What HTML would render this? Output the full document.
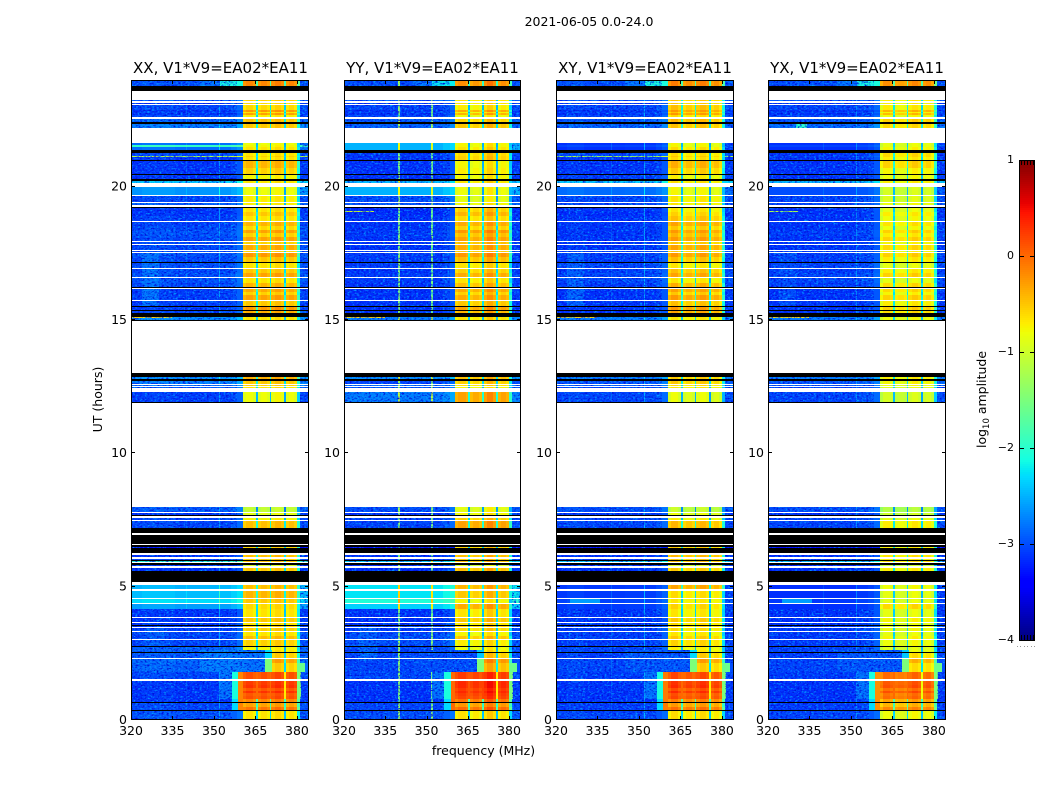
<!DOCTYPE html>
<html lang="en">
<head>
<meta charset="utf-8">
<title>2021-06-05 0.0-24.0</title>
<style>
html,body{margin:0;padding:0;background:#fff;width:1050px;height:800px;overflow:hidden}
svg{display:block}
text{font-family:"DejaVu Sans","Liberation Sans",sans-serif;fill:#000;font-size:12.5px}
</style>
</head>
<body>
<svg id="figure" xmlns="http://www.w3.org/2000/svg" width="1050" height="800" viewBox="0 0 1050 800">
  <defs>
    <filter id="noise-light" x="0" y="0" width="1" height="1" color-interpolation-filters="sRGB">
      <feTurbulence type="fractalNoise" baseFrequency="0.42 0.6" numOctaves="2" seed="3"/>
      <feColorMatrix values="0 0 0 0 0  0 0 0 0 .62  0 0 0 0 1  3.2 0 0 0 -1.6"/>
    </filter>
    <filter id="noise-dark" x="0" y="0" width="1" height="1" color-interpolation-filters="sRGB">
      <feTurbulence type="fractalNoise" baseFrequency="0.42 0.6" numOctaves="2" seed="11"/>
      <feColorMatrix values="0 0 0 0 0  0 0 0 0 .05  0 0 0 0 .85  3.2 0 0 0 -1.55"/>
    </filter>
  </defs>
  <text x="589" y="26" text-anchor="middle">2021-06-05 0.0-24.0</text>
  <g id="panel-0"></g>
  <g id="panel-1"></g>
  <g id="panel-2"></g>
  <g id="panel-3"></g>
  <text x="220.5" y="73" text-anchor="middle" style="font-size:15px">XX, V1*V9=EA02*EA11</text>
  <text x="432.5" y="73" text-anchor="middle" style="font-size:15px">YY, V1*V9=EA02*EA11</text>
  <text x="645" y="73" text-anchor="middle" style="font-size:15px">XY, V1*V9=EA02*EA11</text>
  <text x="857" y="73" text-anchor="middle" style="font-size:15px">YX, V1*V9=EA02*EA11</text>
  <text x="483.5" y="755" text-anchor="middle">frequency (MHz)</text>
  <text transform="translate(102,399.5) rotate(-90)" text-anchor="middle">UT (hours)</text>
  <g id="colorbar"></g>
  <text transform="translate(986,399.5) rotate(-90)" text-anchor="middle">log<tspan dy="3" style="font-size:8.5px">10</tspan><tspan dy="-3"> amplitude</tspan></text>
</svg>
<script>
// ---- axis ticks ----
const xTickValues = [320, 335, 350, 365, 380];
const yTickValues = [0, 5, 10, 15, 20];
const colorbarTickValues = [1, 0, -1, -2, -3, -4];

// ---- time rows: start hour of each row, running from 24 h down to 0 h ----
const rowTop = [
  24.00, 23.25, 23.15, 23.05, 22.88, 22.80, 22.75, 22.68, 22.55, 22.35,
  21.63, 21.55, 21.50, 21.28, 21.15, 21.10, 20.95, 20.69, 20.43, 20.23,
  20.00, 19.65, 19.40, 19.19, 19.05, 18.90, 18.66, 18.52, 18.38, 18.25,
  18.12, 17.93, 17.81, 17.59, 17.50, 17.35, 17.13, 16.90, 16.75, 16.56,
  16.40, 16.18, 16.05, 15.92, 15.71, 15.50, 15.34, 15.13, 12.85, 12.72,
  12.56, 12.49, 12.31, 8.00, 7.75, 7.575, 7.45, 6.50, 6.20, 6.05,
  5.96, 5.825, 5.70, 5.075, 4.85, 4.525, 4.34, 4.15, 3.84, 3.65,
  3.54, 3.44, 3.30, 3.15, 3.00, 2.74, 2.63, 2.51, 2.30, 2.125,
  1.81, 1.46, 1.30, 1.20, 1.10, 1.00, 0.90, 0.80, 0.64, 0.50, 0.34
];

// ---- frequency columns (MHz edges) ----
const columnEdges = [320,324,330,336,339.8,340.2,345,351.8,352.2,356,358.5,360.5,361.5,364.2,365.2,365.8,366.9,369.2,370.2,370.8,371.9,374.3,375.3,375.9,377,379,380,381,384];
// 0 = column follows the off-band background level, 1 = column follows the in-band level
const columnInBand = [0,0,0,0,0,0,0,0,0,0,0,1,1,1,1,1,1,1,1,1,1,1,1,1,1,1,1,0];

// ---- log10 amplitude per column, relative to the row level ----
const xxColumnGain = [-.15,-.1,-.1,-.15,0,-.15,-.13,.35,-.13,-.05,.05,-.05,.05,-.05,-1.6,-.05,.05,-.05,-1.6,0,.1,0,-1.7,-.05,.05,-.05,-1.5,-.1];
const yyColumnGain = [-.15,-.15,-.15,-.15,1.55,-.15,-.15,1.45,-.15,-.05,.05,-.05,.05,-.05,-1.7,-.1,0,-.1,-1.7,.05,.2,.05,-1.7,-.05,.05,-.05,-1.6,-.1];
const xyColumnGain = [-.15,-.1,-.15,-.15,.05,-.15,-.13,.45,-.13,-.05,.05,-.05,.1,-.05,-1.6,-.1,0,-.1,-1.6,0,.1,0,-1.7,-.1,0,-.15,-1.6,-.1];
const yxColumnGain = [-.15,-.15,-.15,-.15,0,-.15,-.15,.25,-.1,-.05,.05,-.2,0,-.08,-1.5,-.15,-.1,-.15,-1.5,-.05,.05,-.05,-1.6,-.08,0,-.15,-1.4,-.1];

// ---- log10 amplitude off-band, per row ----
const xxBackground = [
  -2.85,-2.8,-3,-2.9,-3,-2.9,-3,-2.9,-2.75,-2.6,
  -2.7,-1.8,-2.7,-2.9,-1,-3,-3,-3,-3,-2.2,
  -2.5,-2.9,-2.8,-3,-3,-2.95,-2.95,-2.9,-2.85,-2.85,
  -2.9,-2.9,-2.9,-2.9,-2.85,-2.9,-2.85,-2.9,-2.85,-2.85,
  -2.9,-2.95,-2.95,-2.95,-2.95,-2.95,-2.9,-2.5,-2.5,-2.6,
  -2.7,-2.8,-2.95,-2.8,-3,-2.9,-2.9,-3.3,-3,-2.95,
  -1.9,-3,-3,-2.35,-2.3,-2.15,-2.45,-3,-3,-3,
  -2.95,-2.95,-2.9,-2.9,-2.9,-2.75,-2.75,-2.8,-2.7,-2.75,
  -2.9,-3,-3,-3,-3,-3,-3,-3,-2.9,-2.9,-2.85
];
const yyBackground = [
  -2.85,-2.8,-3,-2.9,-3,-2.9,-3,-2.9,-2.8,-2.75,
  -2.35,-2.35,-2.35,-2.95,-3,-3,-3,-3,-3,-2.3,
  -2.35,-2.85,-2.8,-3.05,-3.05,-3,-3,-3,-2.95,-2.95,
  -3,-3,-3,-2.95,-2.95,-2.95,-2.95,-3,-2.95,-2.95,
  -3,-3,-3,-3,-3,-3,-3,-2.6,-2.5,-2.9,
  -2.7,-2.8,-2.6,-2.85,-3,-2.9,-2.9,-3.3,-3,-3,
  -2.2,-3,-3,-2.1,-2.1,-1.9,-2.2,-3,-3,-3,
  -2.9,-2.95,-2.9,-2.85,-2.85,-2.9,-2.9,-2.9,-2.9,-2.9,
  -2.9,-3,-3,-3,-3,-3,-3,-3,-2.9,-2.9,-2.85
];
const xyBackground = [
  -2.85,-2.8,-3,-2.9,-3,-2.9,-3,-2.9,-2.8,-2.75,
  -3,-2.9,-3,-2.9,-1.1,-3,-3,-3,-2.95,-2.2,
  -2.7,-2.9,-2.9,-3,-3.05,-3,-3,-3,-3,-3,
  -3,-3,-3,-2.95,-2.95,-2.95,-2.9,-2.95,-2.9,-2.9,
  -2.95,-3,-3,-3,-3,-3,-3,-2.6,-2.6,-2.8,
  -2.8,-2.9,-2.9,-2.85,-3,-2.9,-2.9,-3.3,-3,-3,
  -2.2,-3,-3,-2.95,-2.95,-2.9,-2.95,-3,-3,-3,
  -2.95,-2.95,-2.95,-2.95,-2.95,-2.9,-2.9,-2.95,-2.9,-2.9,
  -2.95,-3,-3,-3,-3,-3,-3,-3,-2.95,-2.95,-2.9
];
const yxBackground = [
  -2.85,-2.8,-3,-2.9,-3,-2.9,-3,-2.9,-2.8,-2.7,
  -3,-2.9,-3,-3,-2.9,-3,-3,-3,-3,-2.3,
  -2.85,-2.9,-2.9,-3,-3,-3,-3,-3,-2.95,-2.95,
  -3,-3,-3,-2.95,-2.95,-2.95,-2.9,-2.95,-2.9,-2.9,
  -2.95,-3,-3,-3,-3,-3,-3,-2.6,-2.6,-2.8,
  -2.8,-2.9,-2.9,-2.85,-3,-2.9,-2.9,-3.3,-3,-3,
  -2.2,-3,-3,-3,-3,-2.95,-3,-3,-3,-3,
  -2.95,-2.95,-2.95,-2.95,-2.95,-2.9,-2.9,-2.95,-2.9,-2.9,
  -2.95,-3,-3,-3,-3,-3,-3,-3,-2.95,-2.95,-2.9
];

// ---- log10 amplitude in-band (360-380 MHz), per row ----
const xxBand = [
  -.2,-.6,-.65,-.65,-.3,-.7,-.35,-.75,-.5,-.55,
  -.85,-.8,-.7,-.7,-.6,-.7,-.45,-.6,-.8,-.7,
  -.85,-.75,-.75,-.7,-.55,-.7,-.45,-.65,-.35,-.6,
  -.35,-.6,-.4,-.6,-.3,-.55,-.7,-.55,-.35,-.7,
  -.45,-.4,-.6,-.35,-.55,-.3,-.4,-.7,-.4,-.55,
  -.6,-.7,-.85,-1.1,-.9,-.8,-.5,-.6,-.5,-.6,
  -.5,-1,-.55,-.5,-.45,-.55,-.65,-.7,-.55,-.7,
  -.6,-.6,-.7,-.5,-.6,-.8,-.7,-.6,-.35,-.6,
  .1,.2,.25,.05,.25,.05,.1,-.2,-.35,-.1,-.7
];
const yyBand = [
  -.25,-.7,-.7,-.75,-.4,-.8,-.45,-.85,-.6,-.55,
  -.8,-.8,-.7,-.65,-.6,-.6,-.8,-.75,-.8,-.7,
  -.85,-.9,-.8,-.6,-.45,-.65,-.4,-.6,-.3,-.5,
  -.35,-.5,-.4,-.55,-.3,-.5,-.7,-.6,-.4,-.7,
  -.5,-.4,-.6,-.4,-.55,-.35,-.45,-.7,-.5,-.6,
  -.7,-.8,-.35,-.9,-.8,-.6,-.35,-.6,-.5,-.6,
  -.5,-1,-.5,-.45,-.55,-.8,-.4,-.7,-.55,-.7,
  -.6,-.65,-.8,-.55,-.75,-.85,-.75,-.6,-.3,-.5,
  .2,.3,.3,.2,.3,.2,.15,-.1,-.3,-.05,-.7
];
const xyBand = [
  -.2,-.6,-.6,-.55,-.35,-.6,-.35,-.7,-.5,-.55,
  -.85,-.85,-.7,-.7,-.6,-.7,-.45,-.6,-.8,-.7,
  -.85,-.75,-.75,-.75,-.65,-.55,-.4,-.6,-.35,-.5,
  -.35,-.6,-.4,-.6,-.35,-.55,-.75,-.55,-.4,-.75,
  -.45,-.4,-.6,-.35,-.55,-.35,-.4,-.75,-.6,-.6,
  -.7,-.75,-.9,-1.1,-.9,-.8,-.5,-.6,-.5,-.6,
  -.5,-1,-.6,-.4,-.7,-.75,-.65,-.75,-.6,-.7,
  -.65,-.7,-.75,-.6,-.65,-.8,-.75,-.6,-.35,-.6,
  .1,.2,.25,.05,.25,.05,.1,-.2,-.35,-.1,-.7
];
const yxBand = [
  -.2,-.7,-.7,-.7,-.4,-.75,-.45,-.8,-.55,-.6,
  -.85,-.85,-.75,-.6,-.6,-.7,-.55,-.75,-.8,-.7,
  -.95,-.9,-.8,-.85,-.7,-.8,-.65,-.8,-.55,-.7,
  -.55,-.75,-.6,-.75,-.55,-.7,-.85,-.7,-.55,-.85,
  -.6,-.6,-.75,-.55,-.7,-.55,-.6,-.8,-.7,-.75,
  -.8,-.85,-.95,-1.15,-1,-.85,-.7,-.7,-.65,-.7,
  -.6,-1.05,-.7,-.8,-.85,-.85,-.6,-.85,-.75,-.85,
  -.8,-.8,-.85,-.75,-.8,-.9,-.85,-.65,-.4,-.65,
  0,.1,.15,-.05,.15,-.05,0,-.3,-.4,-.15,-.8
];

// ---- localised patches: hours, MHz, then level per panel (null = not present) ----
const patchTop    = [24,24,2.63,2.63,2.63,2.30,2.125,1.81,1.81,.8,1.81,1.81,1.81,1.81,1.81,17.5,4.56,3.5,15.1,19.09,22.35];
const patchBottom = [23.78,23.78,1.81,1.81,2.30,1.81,1.81,.8,.8,.34,.34,.8,.8,.8,.8,15.5,4.34,2.2,15.06,19.05,22.2];
const patchLeft   = [345,352,345,360.5,368.5,368.5,380,352,356.5,356.5,358.8,365.2,370.2,375.3,380,324,325,325,320,320,330];
const patchRight  = [352,360.5,360.5,368.5,370.9,370.9,383,356.5,358.8,358.8,360.5,365.8,370.8,375.9,381.5,330,336,332,335,331,334];
const xxPatch = [-2.8,-2.1,-2.75,-2.8,-2.3,-1.5,-1.6,-2.8,-2.1,-2.3,-.15,0,0,-.7,-1.5,-2.8,null,-2.9,-.6,null,null];
const yyPatch = [-2.8,-2.2,-3,-3,-2.4,-1.5,-1.6,-2.8,-2.1,-2.3,0,.1,.2,-.7,-1.5,null,null,-2.9,-.6,-1,null];
const xyPatch = [-2.8,-2.1,-2.95,-2.95,-2.3,-1.5,-1.6,-2.8,-2.1,-2.3,-.1,0,.05,-.7,-1.5,-2.9,-2.6,null,-.6,null,null];
const yxPatch = [-2.8,-2.1,-2.95,-2.95,-2.4,-1.5,-1.6,-2.8,-2.1,-2.3,-.2,0,0,-.8,-1.5,-3,-2.6,null,-.6,-1.2,-2];

// ---- flagged time ranges ----
const whiteGapTop    = [23.60,23.20,23.10,22.60,22.20,20.15,19.69,19.44,19.30,18.70,17.96,17.85,17.63,17.54,17.16,16.94,16.60,16.21,15.75,14.95,12.60,12.53,12.45,11.90,7.80,7.65,7.50,7.00,6.60,6.25,6.10,5.91,5.775,5.19,4.90,4.56,4.375,3.875,3.69,3.49,3.34,3.04,2.34,1.525];
const whiteGapBottom = [23.25,23.15,23.05,22.55,21.63,20.00,19.65,19.40,19.25,18.66,17.93,17.81,17.59,17.50,17.13,16.90,16.56,16.18,15.71,13.01,12.56,12.49,12.31,8.00,7.75,7.575,7.45,6.95,6.56,6.20,6.05,5.875,5.70,5.075,4.85,4.525,4.34,3.84,3.65,3.44,3.30,3.00,2.30,1.46];
const blackGapTop    = [23.78,22.43,21.38,21.00,20.48,20.28,19.25,17.19,16.25,15.54,15.38,15.25,15.00,13.01,12.78,11.93,7.70,7.20,6.95,6.56,6.44,6.00,5.875,5.575,3.575,2.775,2.55,0.675,0.375];
const blackGapBottom = [23.60,22.35,21.28,20.95,20.43,20.23,19.19,17.16,16.21,15.50,15.34,15.13,14.95,12.85,12.72,11.90,7.65,7.00,6.60,6.50,6.25,5.96,5.825,5.19,3.54,2.74,2.51,0.64,0.34];

const panelBackground = [xxBackground, yyBackground, xyBackground, yxBackground];
const panelBand = [xxBand, yyBand, xyBand, yxBand];
const panelGain = [xxColumnGain, yyColumnGain, xyColumnGain, yxColumnGain];
const panelPatch = [xxPatch, yyPatch, xyPatch, yxPatch];

// ---- layout ----
const SVG_NS = 'http://www.w3.org/2000/svg';
const panelLeftEdges = [131, 344, 556, 768];
const panelWidths = [177, 176, 177, 177];
const PANEL_TOP = 80, PANEL_BOTTOM = 720;
const FREQ_MIN = 320, FREQ_MAX = 384, HOUR_MAX = 24;
const LEVEL_MIN = -4, LEVEL_MAX = 1;
const CB_LEFT = 1019, CB_W = 15, CB_TOP = 160, CB_BOTTOM = 640;

function xScale(p, mhz) { return panelLeftEdges[p] + (mhz - FREQ_MIN) / (FREQ_MAX - FREQ_MIN) * panelWidths[p]; }
function yScale(hour) { return PANEL_BOTTOM - hour / HOUR_MAX * (PANEL_BOTTOM - PANEL_TOP); }
function cbScale(level) { return CB_BOTTOM - (level - LEVEL_MIN) / (LEVEL_MAX - LEVEL_MIN) * (CB_BOTTOM - CB_TOP); }

function piece(t, pts) {
  for (let i = 1; i < pts.length; i++) {
    if (t <= pts[i][0]) {
      const a = pts[i - 1], b = pts[i];
      return a[1] + (b[1] - a[1]) * (t - a[0]) / (b[0] - a[0]);
    }
  }
  return pts[pts.length - 1][1];
}
function jet(level) {
  const t = Math.max(0, Math.min(1, (level - LEVEL_MIN) / (LEVEL_MAX - LEVEL_MIN)));
  const r = piece(t, [[0,0],[.35,0],[.66,1],[.89,1],[1,.5]]);
  const g = piece(t, [[0,0],[.125,0],[.375,1],[.64,1],[.91,0],[1,0]]);
  const b = piece(t, [[0,.5],[.11,1],[.34,1],[.65,0],[1,0]]);
  return 'rgb(' + Math.round(r * 255) + ',' + Math.round(g * 255) + ',' + Math.round(b * 255) + ')';
}
function addRect(parent, x0, x1, y0, y1, fill) {
  const el = document.createElementNS(SVG_NS, 'rect');
  const xa = Math.round(x0), xb = Math.round(x1), ya = Math.round(y0);
  const yb = Math.max(ya + 1, Math.round(y1));
  el.setAttribute('x', xa);
  el.setAttribute('y', ya);
  el.setAttribute('width', Math.max(1, xb - xa));
  el.setAttribute('height', yb - ya);
  el.setAttribute('fill', fill);
  el.setAttribute('shape-rendering', 'crispEdges');
  parent.appendChild(el);
  return el;
}
function addLine(parent, x1, y1, x2, y2, stroke) {
  const el = document.createElementNS(SVG_NS, 'line');
  el.setAttribute('x1', x1);
  el.setAttribute('y1', y1);
  el.setAttribute('x2', x2);
  el.setAttribute('y2', y2);
  el.setAttribute('stroke', stroke || '#000');
  el.setAttribute('stroke-width', '1');
  el.setAttribute('shape-rendering', 'crispEdges');
  parent.appendChild(el);
  return el;
}
function addText(parent, x, y, anchor, content, size) {
  const el = document.createElementNS(SVG_NS, 'text');
  el.setAttribute('x', x);
  el.setAttribute('y', y);
  el.setAttribute('text-anchor', anchor);
  if (size) el.style.fontSize = size + 'px';
  el.textContent = content;
  parent.appendChild(el);
  return el;
}
function addNoise(g, p, id, fLeft, fRight, hTop, hBottom) {
  const n = addRect(g, xScale(p, fLeft), xScale(p, fRight), yScale(hTop), yScale(hBottom), '#000');
  n.setAttribute('filter', 'url(#' + id + ')');
  
  
}

function drawPanel(p) {
  const g = document.getElementById('panel-' + p);
  const left = panelLeftEdges[p], width = panelWidths[p];
  const bg = panelBackground[p], band = panelBand[p], gain = panelGain[p], patch = panelPatch[p];

  // wide columns first, then narrow ones so pixel snapping can never hide a narrow column
  for (let pass = 0; pass < 2; pass++) {
    for (let c = 0; c < columnInBand.length; c++) {
      const narrow = columnEdges[c + 1] - columnEdges[c] < 0.8;
      if (narrow !== (pass === 1)) continue;
      for (let r = 0; r < rowTop.length; r++) {
        const top = rowTop[r];
        const bottom = r + 1 < rowTop.length ? rowTop[r + 1] : 0;
        const base = columnInBand[c] ? band[r] : bg[r];
        const cell = addRect(g, xScale(p, columnEdges[c]), xScale(p, columnEdges[c + 1]), yScale(top), yScale(bottom), jet(base + gain[c]));
        
        
      }
    }
  }
  for (let i = 0; i < patchTop.length; i++) {
    if (patch[i] === null) continue;
    const rect = addRect(g, xScale(p, patchLeft[i]), xScale(p, patchRight[i]), yScale(patchTop[i]), yScale(patchBottom[i]), jet(patch[i]));
    
    
  }
  ['noise-light', 'noise-dark'].forEach(function (id) {
    addNoise(g, p, id, FREQ_MIN, 358.5, HOUR_MAX, 21.63);
    addNoise(g, p, id, FREQ_MIN, 358.5, 21.38, 20);
    addNoise(g, p, id, FREQ_MIN, 358.5, 19.69, 5.08);
    addNoise(g, p, id, FREQ_MIN, 358.5, 4.15, 1.81);
    addNoise(g, p, id, FREQ_MIN, 356.5, 1.81, 0);
    addNoise(g, p, id, 358.5, 368.5, 2.63, 1.81);
    addNoise(g, p, id, 381, FREQ_MAX, HOUR_MAX, 2.125);
    addNoise(g, p, id, 381, FREQ_MAX, 1.81, 0);
  });
  for (let i = 0; i < whiteGapTop.length; i++) {
    const gap = addRect(g, left, left + width, yScale(whiteGapTop[i]), yScale(whiteGapBottom[i]), '#fff');
    
    
  }
  for (let i = 0; i < blackGapTop.length; i++) {
    const gap = addRect(g, left, left + width, yScale(blackGapTop[i]), yScale(blackGapBottom[i]), '#000');
    
    
  }

  const frame = document.createElementNS(SVG_NS, 'rect');
  frame.setAttribute('x', left + .5);
  frame.setAttribute('y', PANEL_TOP + .5);
  frame.setAttribute('width', width);
  frame.setAttribute('height', PANEL_BOTTOM - PANEL_TOP - 1);
  frame.setAttribute('fill', 'none');
  frame.setAttribute('stroke', '#000');
  frame.setAttribute('shape-rendering', 'crispEdges');
  
  
  g.appendChild(frame);

  xTickValues.forEach(function (v) {
    const x = Math.round(xScale(p, v)) + .5;
    const t1 = addLine(g, x, PANEL_BOTTOM, x, PANEL_BOTTOM - 4);
    
    
    const t2 = addLine(g, x, PANEL_TOP, x, PANEL_TOP + 4);
    
    
    const label = addText(g, xScale(p, v), 735, 'middle', String(v));
    
    
  });
  yTickValues.forEach(function (v) {
    const y = Math.round(yScale(v)) - .5;
    const t1 = addLine(g, left, y, left + 4, y);
    
    
    const t2 = addLine(g, left + width - 3, y, left + width + 1, y);
    
    
    const label = addText(g, left - 4, yScale(v) + 3.8, 'end', String(v));
    
    
  });
}

function drawColorbar() {
  const g = document.getElementById('colorbar');
  for (let y = CB_TOP; y < CB_BOTTOM; y += 2) {
    const level = LEVEL_MAX - (y + 1 - CB_TOP) / (CB_BOTTOM - CB_TOP) * (LEVEL_MAX - LEVEL_MIN);
    const step = addRect(g, CB_LEFT, CB_LEFT + CB_W, y, y + 2, jet(level));
    
    
  }
  const frame = document.createElementNS(SVG_NS, 'rect');
  frame.setAttribute('x', CB_LEFT + .5);
  frame.setAttribute('y', CB_TOP + .5);
  frame.setAttribute('width', CB_W);
  frame.setAttribute('height', CB_BOTTOM - CB_TOP);
  frame.setAttribute('fill', 'none');
  frame.setAttribute('stroke', '#000');
  frame.setAttribute('shape-rendering', 'crispEdges');
  
  
  g.appendChild(frame);

  colorbarTickValues.forEach(function (v) {
    const y = Math.round(cbScale(v)) + .5;
    const t1 = addLine(g, CB_LEFT, y, CB_LEFT + 5, y);
    
    
    const t2 = addLine(g, CB_LEFT + CB_W - 4, y, CB_LEFT + CB_W + 1, y);
    
    
    const label = addText(g, 1014, cbScale(v) + 3, 'end', (v < 0 ? '\u2212' + Math.abs(v) : String(v)), 11);
    
    
  });
  for (let i = 0; i < 5; i++) {
    const x = CB_LEFT + 2 + i * 3 + .5;
    const m1 = addLine(g, x, CB_TOP, x, CB_TOP + 5);
    
    
    const m2 = addLine(g, x, CB_BOTTOM, x, CB_BOTTOM - 5);
    
    
  }
  for (let i = 0; i < 6; i++) {
    const dot = addRect(g, 1017 + i * 3.4, 1018 + i * 3.4, 646, 647, '#999');
    
    
  }
}

for (let p = 0; p < 4; p++) drawPanel(p);
drawColorbar();
</script>
</body>
</html>
